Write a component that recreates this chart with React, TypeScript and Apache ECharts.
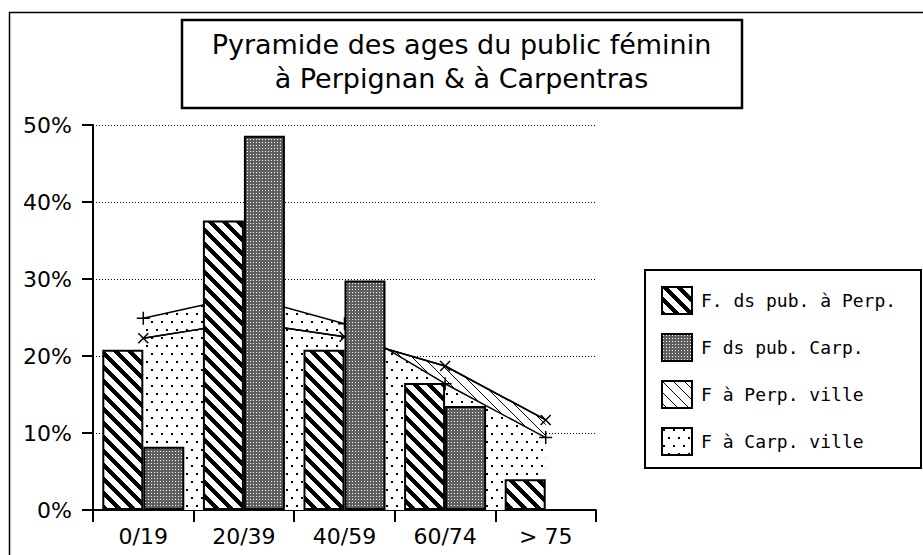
import React, { useEffect, useRef } from "react";
import * as echarts from "echarts";

const categories = ["0/19", "20/39", "40/59", "60/74", "> 75"];
const perpPublic = [20.8, 37.6, 20.8, 16.5, 4.0];
const carpPublic = [8.2, 48.6, 29.8, 13.5, 0];
const perpVille = [22.3, 24.4, 22.5, 18.7, 11.7];
const carpVille = [24.9, 27.8, 24.2, 16.4, 9.4];
const seriesNames = ["F. ds pub. à Perp.", "F ds pub. Carp.", "F à Perp. ville", "F à Carp. ville"];
const titleLines = ["Pyramide des ages du public féminin", "à Perpignan & à Carpentras"];

function tile(w: number, h: number, paint: (x: number, y: number) => string | null) {
  const c = document.createElement("canvas");
  c.width = w;
  c.height = h;
  const ctx = c.getContext("2d")!;
  ctx.fillStyle = "#fff";
  ctx.fillRect(0, 0, w, h);
  for (let y = 0; y < h; y++) {
    for (let x = 0; x < w; x++) {
      const col = paint(x, y);
      if (col) {
        ctx.fillStyle = col;
        ctx.fillRect(x, y, 1, 1);
      }
    }
  }
  return { image: c.toDataURL(), repeat: "repeat", imageWidth: w, imageHeight: h } as any;
}

export default function App() {
  const ref = useRef<HTMLDivElement>(null);
  useEffect(() => {
    const el = ref.current!;
    const chart = echarts.init(el, null, { renderer: "svg" });
    const mod = (a: number, n: number) => ((a % n) + n) % n;
    const thick = tile(14, 14, (x, y) => (mod(x - y, 14) < 6 ? "#000" : null));
    const thin = tile(11, 11, (x, y) => (mod(x - y, 11) === 0 ? "#000" : null));
    const gray = tile(3, 3, (x, y) => (x === 1 && y === 1 ? "#fff" : "#5e5e5e"));
    const dots = tile(10, 16, (x, y) => {
      if ((x === 1 || x === 2) && (y === 1 || y === 2)) return "#000";
      if ((x === 6 || x === 7) && (y === 9 || y === 10)) return "#000";
      return null;
    });

    const crossSym = "path://M0,0L10,10M10,0L0,10";
    const plusSym = "path://M5,0L5,10M0,5L10,5";
    const lineStyle = { color: "#000", width: 1.5 };
    const markerStyle = { color: "#000", borderColor: "#000", borderWidth: 1.5 };

    const option: any = {
      animation: false,
      backgroundColor: "#fff",
      title: {
        text: titleLines.join("\n"),
        left: "center",
        top: 22,
        textStyle: {
          fontFamily: "DejaVu Sans",
          fontSize: 27,
          fontWeight: "normal",
          lineHeight: 34,
          color: "#000",
        },
      },
      legend: {
        orient: "vertical",
        left: 661,
        top: 286,
        itemWidth: 30,
        itemHeight: 27,
        itemGap: 18,
        selectedMode: false,
        padding: 0,
        textStyle: { fontFamily: "DejaVu Sans Mono", fontSize: 18, color: "#000", padding: [0, 0, 0, 4] },
        data: [
          { name: seriesNames[0], icon: "rect", itemStyle: { color: thick, borderColor: "#000", borderWidth: 2 } },
          { name: seriesNames[1], icon: "rect", itemStyle: { color: gray, borderColor: "#000", borderWidth: 2 } },
          { name: seriesNames[2], icon: "rect", itemStyle: { color: thin, borderColor: "#000", borderWidth: 2 } },
          { name: seriesNames[3], icon: "rect", itemStyle: { color: dots, borderColor: "#000", borderWidth: 2 } },
        ],
      },
      grid: { left: 93, top: 125, width: 503, height: 385 },
      xAxis: {
        type: "category",
        data: categories,
        boundaryGap: true,
        axisLine: { lineStyle: { color: "#000", width: 2 } },
        axisTick: { show: true, length: 12, lineStyle: { color: "#000", width: 2 } },
        axisLabel: { color: "#000", fontFamily: "DejaVu Sans", fontSize: 22, margin: 15 },
        splitLine: { show: false },
      },
      yAxis: {
        type: "value",
        min: 0,
        max: 50,
        interval: 10,
        axisLine: { show: true, lineStyle: { color: "#000", width: 2 } },
        axisTick: { show: true, length: 11, lineStyle: { color: "#000", width: 2 } },
        axisLabel: { formatter: "{value}%", color: "#000", fontFamily: "DejaVu Sans", fontSize: 22, margin: 21 },
        splitLine: { show: true, lineStyle: { color: "#000", width: 1, type: [1, 2] } },
      },
      series: [
        {
          name: seriesNames[2],
          type: "line",
          data: perpVille,
          z: 1,
          symbol: "none",
          lineStyle,
          itemStyle: markerStyle,
          areaStyle: { color: thin, opacity: 1 },
          emphasis: { disabled: true },
        },
        {
          name: seriesNames[3],
          type: "line",
          data: carpVille,
          z: 1,
          symbol: plusSym,
          symbolSize: 13,
          lineStyle,
          itemStyle: markerStyle,
          areaStyle: { color: dots, opacity: 1 },
          emphasis: { disabled: true },
        },
        {
          name: seriesNames[2],
          type: "line",
          data: perpVille,
          z: 2,
          symbol: crossSym,
          symbolSize: 10,
          lineStyle,
          itemStyle: markerStyle,
          emphasis: { disabled: true },
        },
        {
          name: seriesNames[0],
          type: "bar",
          data: perpPublic,
          z: 3,
          barWidth: 41,
          barGap: "0%",
          itemStyle: { color: thick, borderColor: "#000", borderWidth: 2 },
          emphasis: { disabled: true },
        },
        {
          name: seriesNames[1],
          type: "bar",
          data: carpPublic,
          z: 3,
          barWidth: 41,
          barGap: "0%",
          itemStyle: { color: gray, borderColor: "#000", borderWidth: 2 },
          emphasis: { disabled: true },
        },
      ],
      graphic: [
        {
          type: "rect",
          shape: { x: 9.5, y: 12.5, width: 940, height: 600 },
          style: { fill: "none", stroke: "#000", lineWidth: 1.5 },
          silent: true,
        },
        {
          type: "rect",
          shape: { x: 182, y: 20, width: 560, height: 88 },
          style: { fill: "#fff", stroke: "#000", lineWidth: 2.5 },
          silent: true,
        },
        {
          type: "rect",
          shape: { x: 645, y: 270, width: 276, height: 198 },
          style: { fill: "#fff", stroke: "#000", lineWidth: 2 },
          silent: true,
        },
      ],
    };
    chart.setOption(option);
    return () => chart.dispose();
  }, []);
  return (
    <div
      ref={ref}
      style={{ position: "absolute", left: 0, top: 0, width: 923, height: 555, background: "#fff" }}
    />
  );
}
